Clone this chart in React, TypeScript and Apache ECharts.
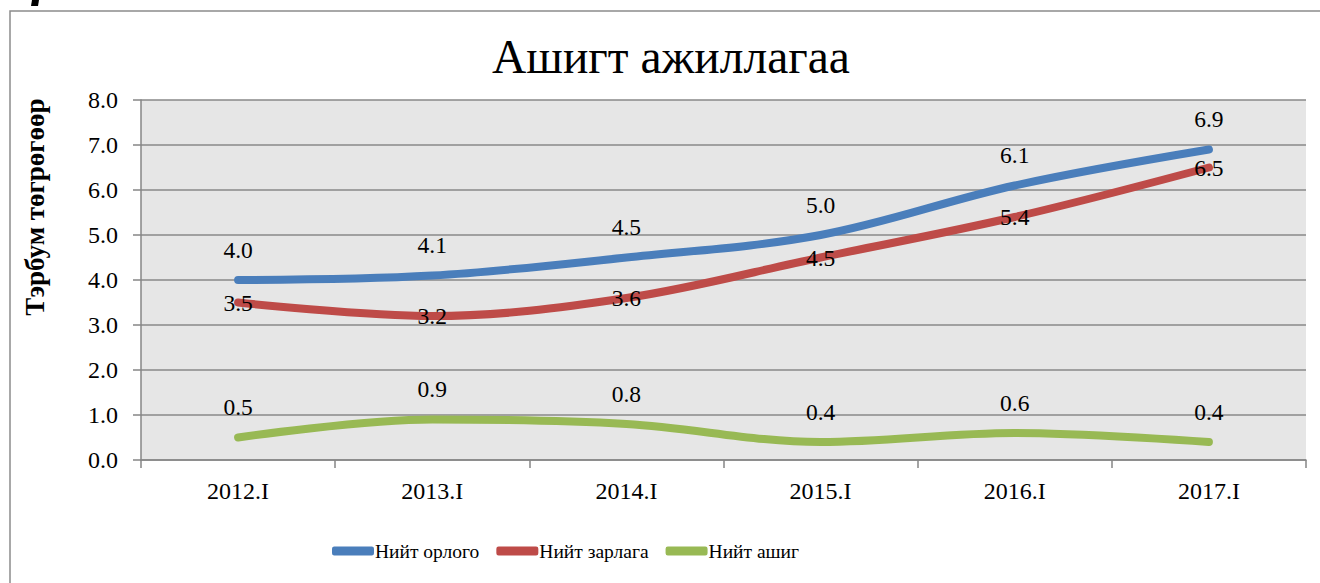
import React, { useEffect, useRef } from "react";
import * as echarts from "echarts";

const categories = ["2012.I", "2013.I", "2014.I", "2015.I", "2016.I", "2017.I"];
const income = [4.0, 4.1, 4.5, 5.0, 6.1, 6.9];
const expense = [3.5, 3.2, 3.6, 4.5, 5.4, 6.5];
const profit = [0.5, 0.9, 0.8, 0.4, 0.6, 0.4];
const seriesNames = ["Нийт орлого", "Нийт зарлага", "Нийт ашиг"];
const titleText = "Ашигт ажиллагаа";
const yAxisName = "Тэрбум төгрөгөөр";

const FONT = "Liberation Serif";

export default function App() {
  const ref = useRef<HTMLDivElement>(null);
  useEffect(() => {
    if (!ref.current) return;
    const chart = echarts.init(ref.current, null, { renderer: "svg" });
    const mkSeries = (name: string, data: number[], color: string, pos: string) => ({
      name,
      type: "line",
      data,
      smooth: 0.35,
      symbol: "circle",
      symbolSize: 1,
      itemStyle: { color },
      lineStyle: { color, width: 8, cap: "round", join: "round" },
      label: {
        show: true,
        position: pos,
        distance: 18,
        formatter: (p: any) => Number(p.value).toFixed(1),
        fontFamily: FONT,
        fontSize: 23.5,
        color: "#000",
      },
    });
    chart.setOption({
      animation: false,
      backgroundColor: "#fff",
      textStyle: { fontFamily: FONT },
      title: {
        text: titleText,
        left: 487,
        top: 28,
        textStyle: { fontFamily: FONT, fontSize: 47.5, fontWeight: "normal", color: "#000" },
      },
      grid: {
        left: 141,
        right: 14,
        top: 100,
        bottom: 123,
        show: true,
        backgroundColor: "#e6e6e6",
        borderWidth: 0,
      },
      legend: {
        bottom: 17,
        left: 327,
        itemWidth: 42,
        itemHeight: 9,
        itemGap: 17,
        icon: "roundRect",
        data: seriesNames,
        textStyle: { fontFamily: FONT, fontSize: 19.5, color: "#000", padding: [0, 0, 0, -4] },
      },
      xAxis: {
        type: "category",
        data: categories,
        boundaryGap: true,
        axisLine: { lineStyle: { color: "#868686", width: 1.5 } },
        axisTick: { show: true, length: 8, lineStyle: { color: "#868686", width: 1.5 } },
        axisLabel: { fontFamily: FONT, fontSize: 24, color: "#000", margin: 19 },
        splitLine: { show: false },
      },
      yAxis: {
        type: "value",
        min: 0,
        max: 8,
        interval: 1,
        axisLine: { show: true, lineStyle: { color: "#868686", width: 1.5 } },
        axisTick: { show: true, length: 8, lineStyle: { color: "#868686", width: 1.5 } },
        axisLabel: {
          fontFamily: FONT,
          fontSize: 24,
          color: "#000",
          margin: 23,
          formatter: (v: number) => v.toFixed(1),
        },
        splitLine: { show: true, lineStyle: { color: "#888888", width: 1.5 } },
      },
      graphic: [
        {
          type: "rect",
          shape: { x: 10, y: 11, width: 1340, height: 600 },
          style: { fill: "none", stroke: "#8c8c8c", lineWidth: 1.5 },
          silent: true,
        },
        {
          type: "polygon",
          shape: { points: [[32, 0], [39, 0], [38, 6], [31, 6]] },
          style: { fill: "#000" },
          silent: true,
        },
        {
          type: "text",
          x: 35,
          y: 207,
          rotation: Math.PI / 2,
          style: {
            text: yAxisName,
            fontFamily: FONT,
            fontSize: 27,
            fontWeight: "bold",
            fill: "#000",
            align: "center",
            verticalAlign: "middle",
          },
        },
      ],
      series: [
        mkSeries(seriesNames[0], income, "#4a7ebb", "top"),
        mkSeries(seriesNames[1], expense, "#be4b48", "inside"),
        mkSeries(seriesNames[2], profit, "#98b954", "top"),
      ],
    });
    return () => chart.dispose();
  }, []);
  return (
    <div
      ref={ref}
      style={{ position: "absolute", left: 0, top: 0, width: 1320, height: 583 }}
    />
  );
}
